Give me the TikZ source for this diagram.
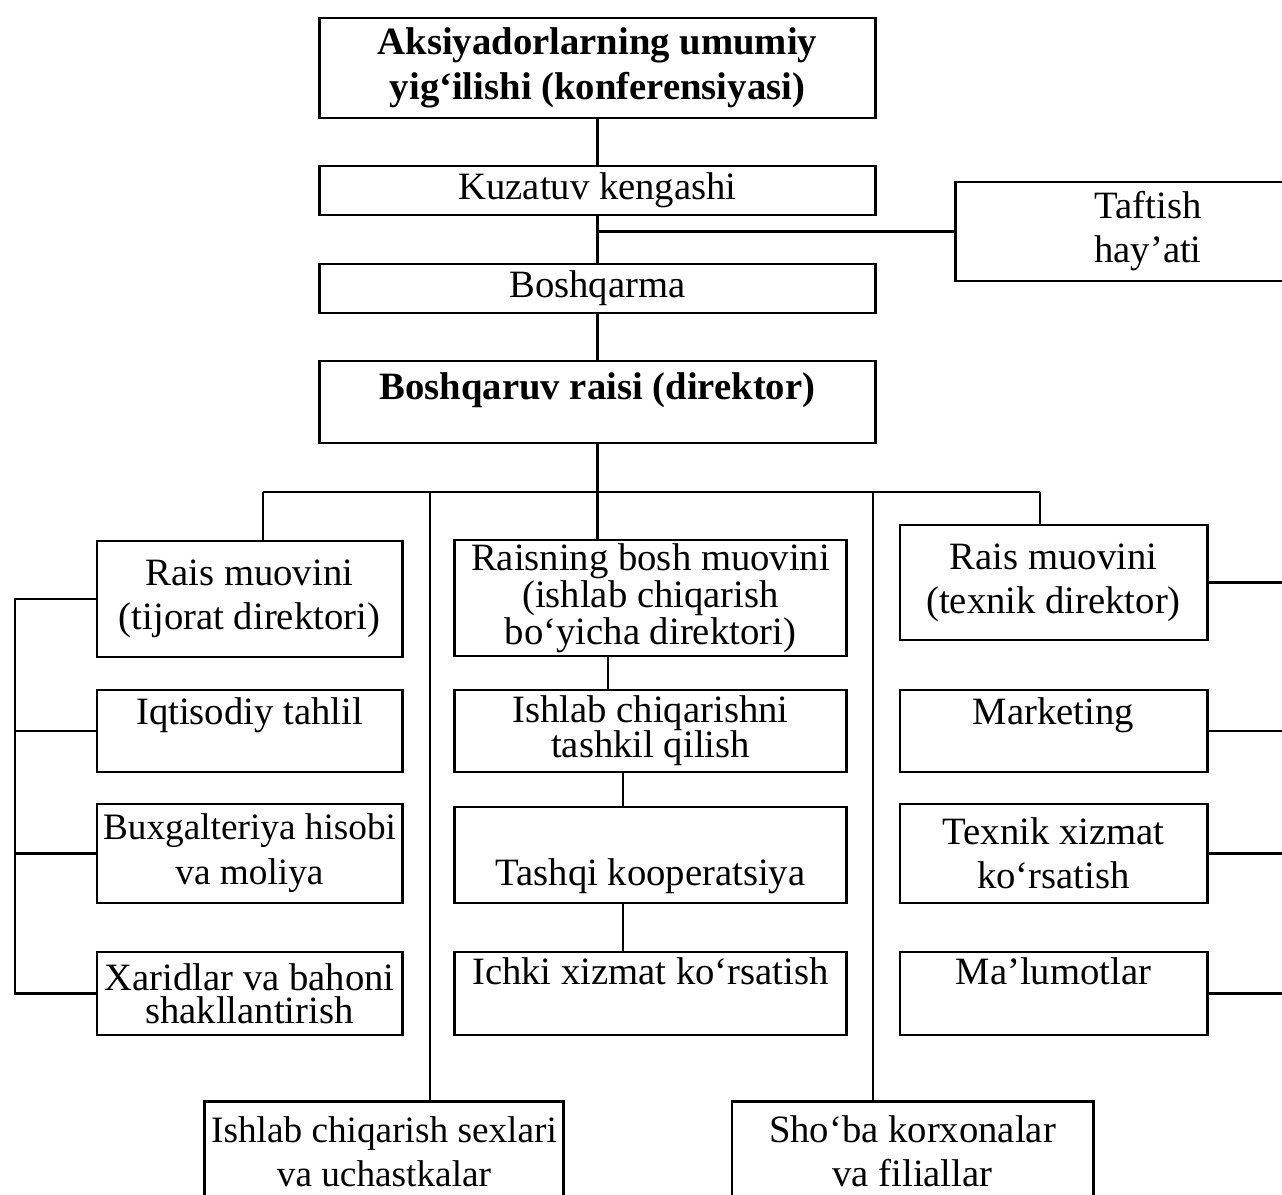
\documentclass[tikz,border=0pt]{standalone}
\usepackage{fontspec}
\setmainfont{Liberation Serif}
\usetikzlibrary{positioning}

\begin{document}
\begin{tikzpicture}[
    x=0.01cm, y=-0.01cm,
    unit/.style={rectangle, draw, line width=0.8pt, inner sep=1pt, align=center, font=\fontsize{11pt}{12.5pt}\selectfont},
    head/.style={unit, font=\fontsize{11pt}{12.8pt}\selectfont\bfseries},
    lcol/.style={unit, minimum width=3.05cm},
    mcol/.style={unit, minimum width=3.91cm},
    rcol/.style={unit, minimum width=3.07cm},
    link/.style={line width=0.8pt}
]
\useasboundingbox (0,0) rectangle (1282,1194);

% Nodes
\node[head, minimum width=5.55cm, minimum height=1cm] (agm) at (597.5,68) {Aksiyadorlarning umumiy\\yig‘ilishi (konferensiyasi)};
\node[unit, minimum width=5.55cm, minimum height=0.49cm] (kuz) at (597.5,190.5) {Kuzatuv kengashi};
\node[unit, minimum width=3.84cm, minimum height=0.99cm] (taft) at (1148,231.5) {Taftish\\hay’ati};
\node[unit, minimum width=5.55cm, minimum height=0.49cm] (bosh) at (597.5,288.5) {Boshqarma};
\node[head, minimum width=5.55cm, minimum height=0.82cm, text depth=0.32cm] (rais) at (597.5,402) {Boshqaruv raisi (direktor)};

\node[lcol, minimum height=1.16cm] (tij) at (249.5,599) {Rais muovini\\(tijorat direktori)};
\node[mcol, minimum height=1.14cm, font=\fontsize{11pt}{10.5pt}\selectfont] (bmuov) at (650.5,598) {Raisning bosh muovini\\(ishlab chiqarish\\bo‘yicha direktori)};
\node[rcol, minimum height=1.15cm] (tex) at (1053.5,582.5) {Rais muovini\\(texnik direktor)};

\node[lcol, minimum height=0.82cm, text depth=0.4cm] (iqt) at (249.5,731) {Iqtisodiy tahlil};
\node[mcol, minimum height=0.82cm, font=\fontsize{11pt}{10pt}\selectfont] (ishtash) at (650.5,731) {Ishlab chiqarishni\\tashkil qilish};
\node[rcol, minimum height=0.82cm, text depth=0.4cm] (mkt) at (1053.5,731) {Marketing};

\node[lcol, minimum height=0.99cm, font=\fontsize{10.6pt}{12.8pt}\selectfont] (bux) at (249.5,853.5) {Buxgalteriya hisobi\\va moliya};
\node[mcol, minimum height=0.96cm, text height=0.7cm] (tashqi) at (650.5,855) {Tashqi kooperatsiya};
\node[rcol, minimum height=0.99cm] (txz) at (1053.5,853.5) {Texnik xizmat\\ko‘rsatish};

\node[lcol, minimum height=0.83cm, font=\fontsize{11pt}{9.5pt}\selectfont] (xar) at (249.5,993.5) {Xaridlar va bahoni\\shakllantirish};
\node[mcol, minimum height=0.83cm, text depth=0.44cm] (ichki) at (650.5,993.5) {Ichki xizmat ko‘rsatish};
\node[rcol, minimum height=0.83cm, text depth=0.44cm] (mal) at (1053.5,993.5) {Ma’lumotlar};

\node[unit, minimum width=3.58cm, minimum height=1cm, anchor=north, font=\fontsize{10.6pt}{12.5pt}\selectfont] (sex) at (384,1100) {Ishlab chiqarish sexlari\\va uchastkalar};
\node[unit, minimum width=3.61cm, minimum height=1cm, anchor=north] (sho) at (912.5,1100) {Sho‘ba korxonalar\\va filiallar};

% Lines
\coordinate (busL) at (263,492);
\coordinate (busR) at (1040,492);
\coordinate (legA) at (430,492);
\coordinate (legB) at (873,492);
\coordinate (midA) at (608,0);
\coordinate (midB) at (623,0);
\coordinate (lbar) at (15,0);
\coordinate (rbar) at (1300,0);

\draw[link] (agm) -- (kuz);
\draw[link] (kuz) -- (bosh);
\draw[link] (kuz.south |- taft.west) -- (taft.west);
\draw[link] (bosh) -- (rais);
\draw[link] (rais) -- (rais.south |- busL);
\draw[link] (busL) -- (busR);
\draw[link] (busL) -- (busL |- tij.north);
\draw[link] (busR) -- (busR |- tex.north);
\draw[link] (rais.south |- busL) -- (rais.south |- bmuov.north);
\draw[link] (legA) -- (legA |- sex.north);
\draw[link] (legB) -- (legB |- sho.north);

\draw[link] (midA |- bmuov.south) -- (midA |- ishtash.north);
\draw[link] (midB |- ishtash.south) -- (midB |- tashqi.north);
\draw[link] (midB |- tashqi.south) -- (midB |- ichki.north);

\draw[link] (tij.west) -- (tij.west -| lbar) -- (xar.west -| lbar) -- (xar.west);
\foreach \n in {iqt,bux} \draw[link] (\n.west) -- (\n.west -| lbar);
\foreach \n in {tex,mkt,txz,mal} \draw[link] (\n.east) -- (\n.east -| rbar);

\end{tikzpicture}
\end{document}
